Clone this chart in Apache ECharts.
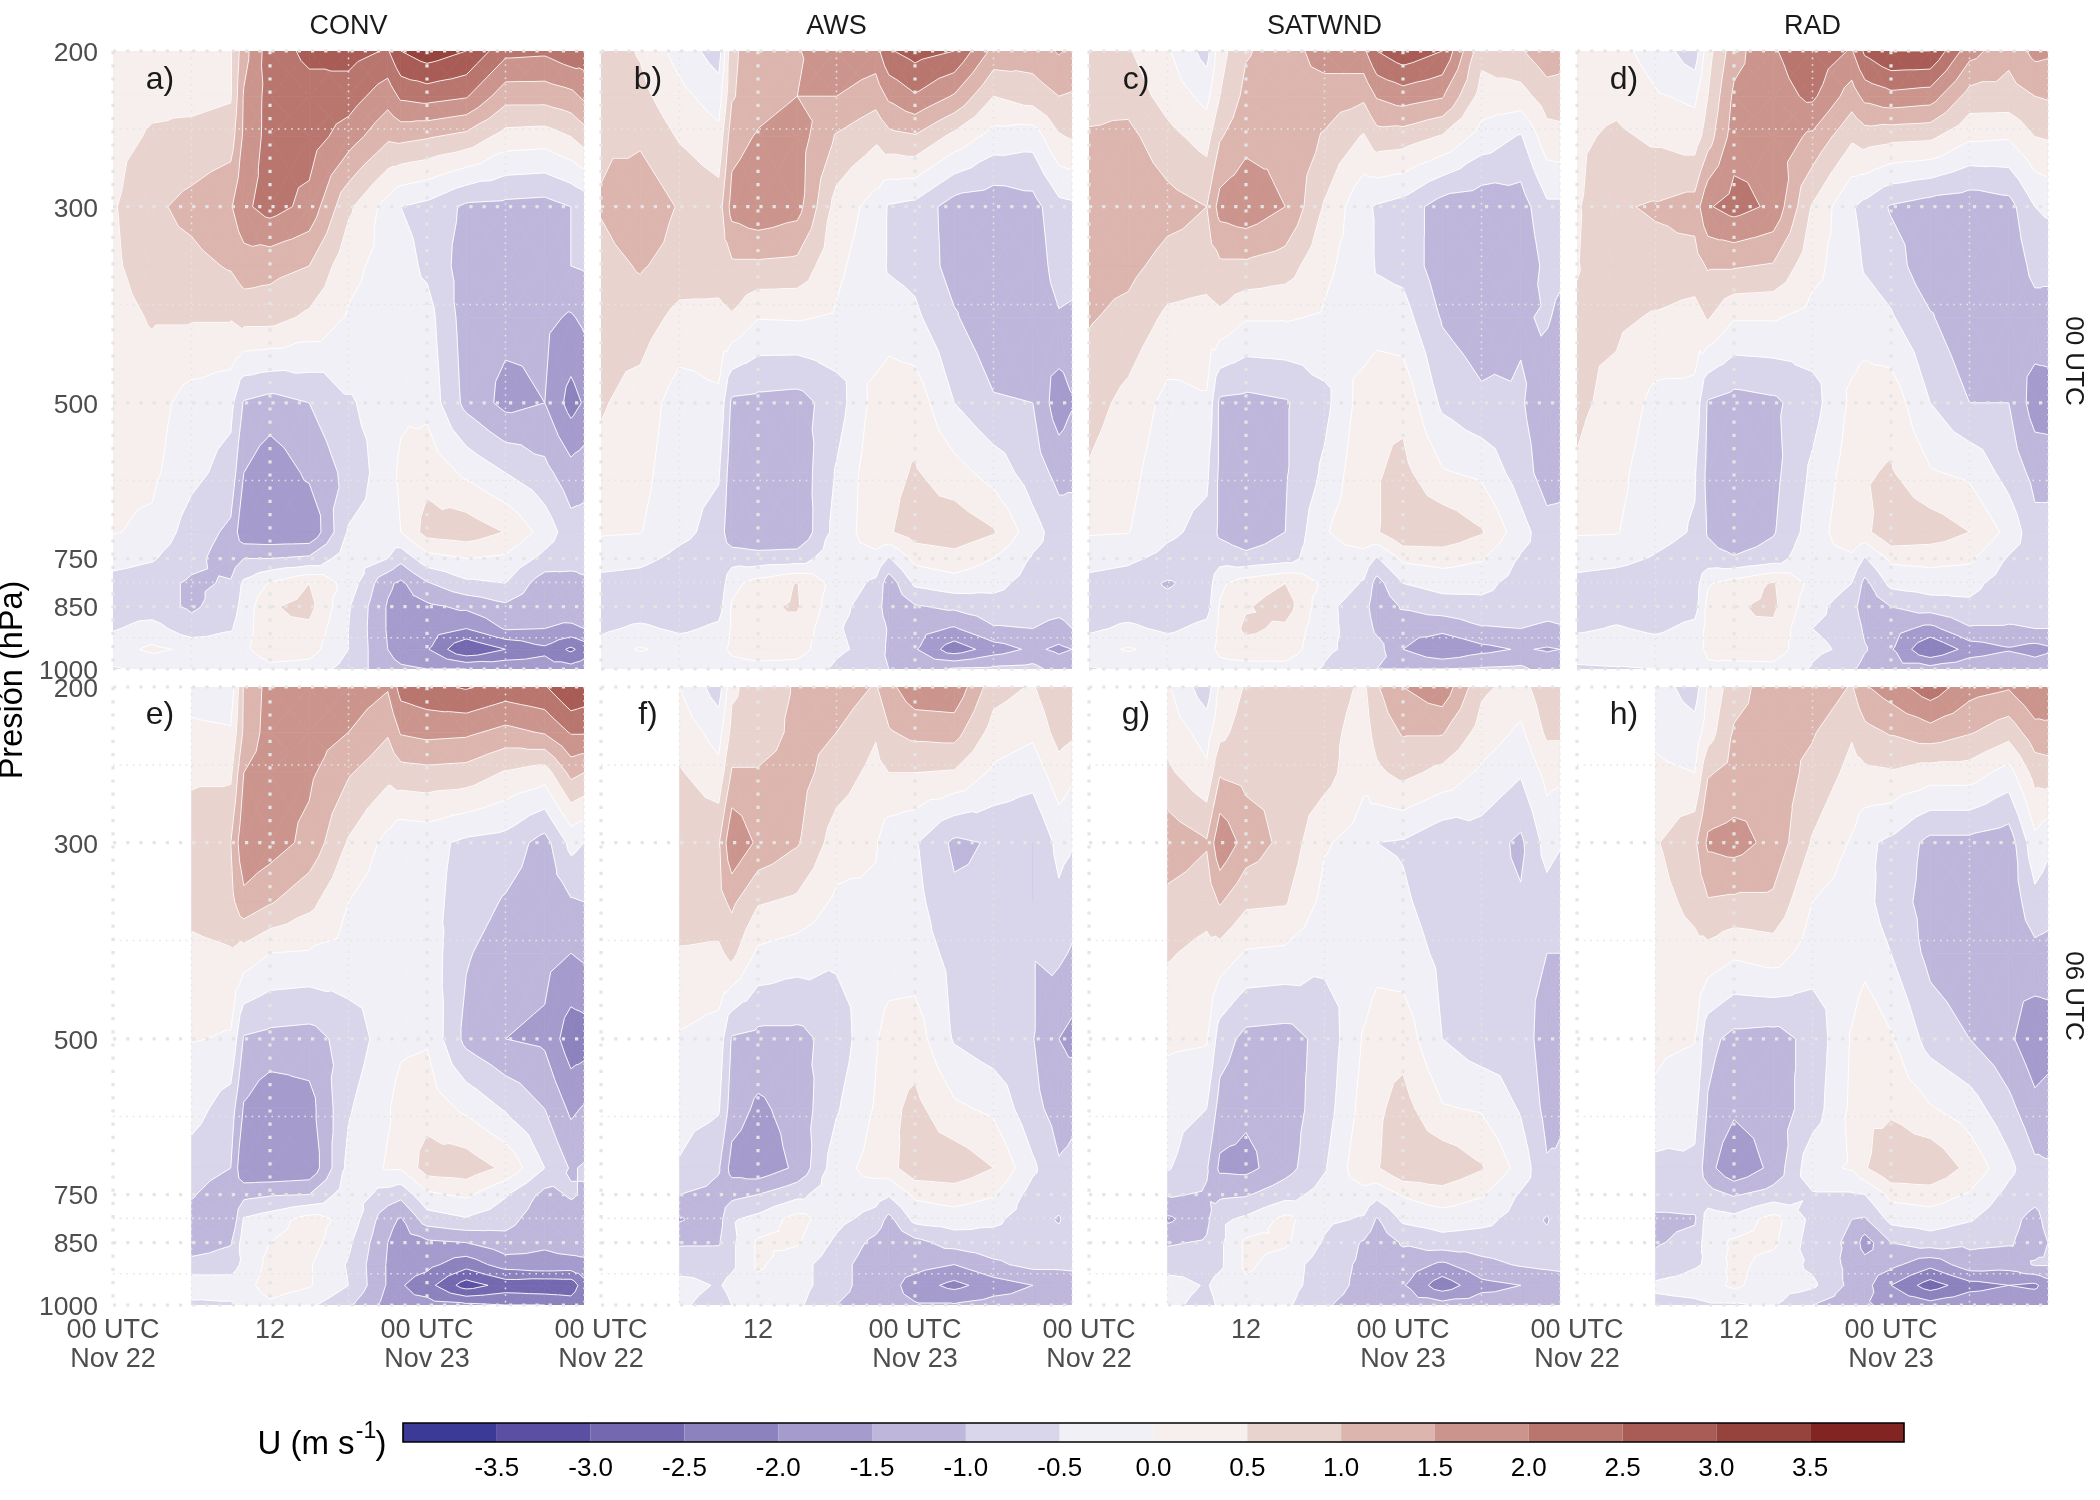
<!DOCTYPE html>
<html>
<head>
<meta charset="utf-8">
<script src="https://cdn.jsdelivr.net/npm/echarts@6/dist/echarts.min.js"></script>
<style>
    html, body { margin: 0; background: #fff; }
    #chart { width: 2100px; height: 1500px; }
</style>
</head>
<body>
<div id="chart"></div>
<script>
const pressure = [200, 225, 250, 300, 350, 400, 500, 600, 700, 750, 800, 850, 900, 950, 1000]
const timesTop = [0, 3, 6, 9, 10, 12, 15, 18, 21, 22, 24, 27, 30, 33, 35, 36]
const timesBottom = [6, 9, 10, 12, 15, 18, 21, 22, 24, 27, 30, 33, 35, 36]

const levels = [-4, -3.5, -3, -2.5, -2, -1.5, -1, -0.5, 0, 0.5, 1, 1.5, 2, 2.5, 3, 3.5, 4]
const bandColors = ['#3b3a96', '#5a4fa3', '#7468b0', '#8c82bd', '#a59bcd', '#bfb7db', '#d9d5ea', '#f1f0f6',
    '#f6efed', '#e9d3ce', '#dcb5ae', '#cb958d', '#b9766f', '#a85c55', '#95433c', '#822522']

const majorP = [200, 300, 500, 750, 850, 1000]
const minorP = [245, 387, 612, 798, 922]
const majorT = [0, 12, 24]
const minorT = [6, 18, 30, 36]
const xTickValues = [0, 12, 24]
const xTickLabels = ['00 UTC\nNov 22', '12', '00 UTC\nNov 23']
const colNames = ['CONV', 'AWS', 'SATWND', 'RAD']
const panelLetters = ['a)', 'b)', 'c)', 'd)', 'e)', 'f)', 'g)', 'h)']
const rowNames = ['00 UTC', '06 UTC']

// one list per time step, top (200 hPa) to bottom (1000 hPa)
const panelA = [
    [.25,.3,.35,.45,.4,.3,.2,.1,.03,-.3,-.7,-.7,-.55,-.2,-.55],
    [.3,.4,.55,.9,.8,.55,.2,.1,-.1,-.45,-.8,-.8,-.3,.1,-.4],
    [.3,.35,.65,1.15,.85,.55,-.2,-.35,-.75,-.85,-1.08,-1.08,-.8,-.1,-.4],
    [.45,.45,.75,1.45,1.05,.55,-.35,-.7,-1.1,-1.25,-.95,-.75,-.55,-.2,-.4],
    [1.3,1.55,1.6,1.9,1.25,.7,-1.05,-1.5,-1.9,-1,-.4,-.3,-.25,-.1,-.4],
    [2.3,2.2,2.2,2.2,1.17,.7,-1.2,-1.85,-1.95,-1,.05,.45,.45,.3,-.15],
    [2.6,2.35,2.25,1.85,1,.4,-1,-1.4,-1.95,-.9,.5,.65,.4,.2,-.2],
    [2.7,2.25,1.75,.6,.15,-.05,-.55,-.85,-.45,-.2,-.2,-.45,-.5,-.5,-.7],
    [2.45,1.7,1.1,-.2,-.2,-.25,-.3,-.2,-.3,-.5,-1.4,-1.55,-1.55,-1.5,-1.3],
    [3,2.1,1.15,-.5,-.3,-.3,-.1,.1,0,-.85,-1.6,-1.7,-1.65,-1.8,-1.4],
    [3.3,2.2,1.05,-.65,-.6,-.3,-.15,.35,.7,-.2,-1.05,-1.6,-1.75,-1.95,-1.5],
    [3,2.05,.85,-1.1,-1.25,-1.25,-1.15,-.1,.8,0,-.6,-1.4,-2,-3,-1.5],
    [2.15,1.2,.3,-1.15,-1.3,-1.35,-1.65,-.5,.48,-.1,-.5,-1.1,-1.45,-2.5,-1.6],
    [2.1,1.2,.25,-1.2,-1.3,-1.4,-1.5,-.85,-.2,-.65,-1.3,-1.35,-1.5,-2.1,-1.8],
    [2.35,1.35,.5,-1,-1,-1.55,-2.2,-1.3,-.8,-.85,-1.15,-1.2,-1.6,-2.6,-1.8],
    [2.3,1.6,.75,-.85,-.95,-1.4,-1.95,-1.2,-.8,-.9,-1.05,-1.15,-1.5,-2.3,-1.7]
]
const panelB = [
    [.8,.85,.9,1.05,.8,.7,.55,.35,.05,-.25,-.7,-.8,-.6,-.3,-.5],
    [.45,.65,.9,1.4,1.05,.75,.3,.15,.02,-.35,-.75,-.8,-.4,.05,-.4],
    [-.2,.15,.45,.95,.8,.35,-.25,-.3,-.35,-.65,-1,-.85,-.6,-.2,-.4],
    [-.75,-.25,.15,.75,.75,.35,-.1,-.45,-.7,-.8,-.85,-.7,-.4,-.15,-.4],
    [.9,.95,1.3,1.7,.9,.45,-1.1,-1.3,-1.4,-.7,-.15,.05,.05,.1,-.2],
    [1.3,1.3,1.55,1.9,.9,.03,-1.15,-1.35,-1.45,-.8,.2,.42,.48,.3,-.2],
    [1.45,1.5,1.75,1.7,.85,.05,-1.2,-1.35,-1.45,-.75,.52,.55,.35,.2,-.2],
    [1.95,1.5,.95,.3,.1,-.05,-.75,-.45,-.3,-.15,-.2,-.35,-.45,-.4,-.6],
    [1.8,1.2,.6,-.2,-.3,-.4,.2,.35,.3,-.15,-.6,-.75,-.75,-.7,-.95],
    [2.45,1.6,.85,-.55,-.55,-.25,.3,.35,.45,-.55,-1.3,-1.3,-1.05,-1.1,-1],
    [2.7,1.95,.95,-.65,-.65,-.4,.3,.55,.75,.15,-.4,-1.05,-1.3,-1.45,-1.3],
    [2.5,1.45,.35,-1.25,-1.2,-.95,-.5,.2,.85,.3,-.2,-.9,-1.55,-2.3,-.95],
    [1.35,.5,-.2,-1.35,-1.35,-1.35,-.95,-.2,.55,0,-.35,-.7,-1.05,-1.75,-.9],
    [1.25,.75,-.3,-1.2,-1.35,-1.4,-1,-.75,-.3,-.55,-.7,-.75,-1,-1.4,-.85],
    [1.55,1,.45,-.65,-.75,-1.05,-1.8,-1.15,-.75,-.65,-.7,-.8,-1.2,-1.6,-1.2],
    [1.4,.95,.55,-.6,-.8,-1.1,-1.55,-1.1,-.8,-.65,-.7,-.75,-1,-1.5,-1.1]
]
const panelC = [
    [.75,.85,1.05,1.35,1.2,1.05,.7,.45,.05,-.3,-.65,-.75,-.6,-.2,-.55],
    [.55,.8,1.15,1.5,1.15,.85,.35,.15,.02,-.4,-.75,-.75,-.4,.05,-.4],
    [.05,.3,.65,1.2,.8,.4,-.15,-.3,-.4,-.65,-1.05,-.85,-.6,-.2,-.45],
    [-.7,-.15,.3,1,.75,.3,-.05,-.4,-.65,-.8,-.8,-.7,-.35,-.15,-.4],
    [.3,.5,.95,1.7,.9,.4,-1.1,-1.1,-1.1,-.7,-.1,.05,.1,.1,-.15],
    [.95,1.15,1.35,1.85,.9,.05,-1.15,-1.2,-1.35,-.85,.25,.45,.6,.3,-.2],
    [1.25,1.3,1.35,1.5,.75,.05,-1.05,-1.05,-1,-.7,.5,.75,.4,.3,-.2],
    [1.75,1.25,.95,.45,.1,-.05,-.65,-.4,-.05,-.15,-.1,-.35,-.35,-.4,-.55],
    [1.9,1.1,.45,-.4,-.25,-.35,.25,.4,.35,-.2,-.55,-.8,-.75,-.7,-1],
    [2.5,1.55,.8,-.55,-.55,-.25,.4,.45,.45,-.55,-1.2,-1.3,-1.1,-.8,-1],
    [2.85,1.75,.75,-.7,-.65,-.3,.35,.65,.95,.1,-.5,-.95,-1.3,-1.5,-1],
    [2.5,1.55,.45,-1.25,-1.3,-1.05,-.6,.05,.9,.2,-.3,-.75,-1.35,-2,-1],
    [.65,.3,-.2,-1.35,-1.4,-1.3,-.9,-.1,.55,.05,-.35,-.65,-1.05,-1.65,-.95],
    [.95,.3,-.55,-1.25,-1.4,-1.05,-.95,-.75,-.3,-.55,-.7,-.7,-1,-1.45,-.9],
    [1.35,.75,.3,-.6,-.85,-.95,-1.3,-1.25,-.8,-.65,-.7,-.8,-1.1,-1.55,-1.2],
    [1.25,.75,.35,-.6,-.9,-1.1,-1.35,-1.2,-.8,-.65,-.7,-.8,-1.05,-1.5,-1.1]
]
const panelD = [
    [.2,.3,.4,.45,.48,.55,.6,.45,.05,-.3,-.65,-.8,-.6,-.15,-.6],
    [.15,.35,.6,.95,.75,.6,.35,.15,.03,-.35,-.75,-.75,-.45,-.15,-.55],
    [-.2,.05,.4,1.05,.85,.45,-.15,-.3,-.3,-.55,-.85,-.8,-.6,-.25,-.5],
    [-.8,-.1,.25,1.2,.8,.3,-.15,-.45,-.55,-.75,-.75,-.7,-.35,-.15,-.5],
    [.3,.5,.75,1.95,1.05,.55,-1.05,-1.15,-1.05,-.8,-.05,.15,.15,.1,-.1],
    [1.3,1.6,1.75,2.2,1.05,.05,-1.2,-1.2,-1.4,-.95,.2,.45,.5,.3,-.2],
    [1.95,1.8,1.8,1.9,.95,.05,-1.1,-1.15,-1.05,-.75,.55,.6,.4,.25,-.15],
    [2.35,2.1,1.4,.45,.15,-.15,-.7,-.4,-.25,-.1,-.15,-.35,-.5,-.4,-.55],
    [1.95,1.25,.6,-.45,-.3,-.25,.1,.25,.35,-.1,-.5,-.75,-.65,-.6,-.9],
    [2.6,1.65,.75,-.65,-.55,-.25,.25,.45,.35,-.55,-1.15,-1.35,-1.1,-.95,-1.2],
    [3,1.85,.65,-1.05,-.75,-.45,.3,.55,.95,.1,-.35,-1,-1.3,-1.45,-1.3],
    [3,1.75,.6,-1.25,-1.35,-.95,-.5,.05,.8,.15,-.25,-.75,-1.65,-2.5,-1.3],
    [1.7,.8,.1,-1.35,-1.35,-1.4,-1,-.1,.5,.1,-.35,-.6,-1.05,-1.8,-1.1],
    [1.15,.8,.05,-1.2,-1.35,-1.4,-1,-.7,-.15,-.55,-.75,-.8,-1.05,-1.55,-1],
    [1.65,1,.5,-.5,-.85,-1.2,-1.75,-1.15,-.85,-.65,-.7,-.8,-1,-1.7,-1.2],
    [1.6,1.05,.55,-.4,-.9,-1.15,-1.75,-1.2,-.8,-.65,-.7,-.8,-1,-1.6,-1.1]
]
const panelE = [
    [-.2,.1,.4,.8,.7,.35,.03,-.3,-.75,-.95,-1.2,-1.35,-.8,-.2,-.6],
    [-.3,.05,.4,1,.85,.45,-.05,-.75,-1,-1.35,-1.45,-1.05,-.7,-.3,-.55],
    [1.05,1.1,1.5,1.9,1.35,.3,-1.05,-1.55,-1.95,-1.15,-.45,-.25,-.4,-.2,-.35],
    [1.7,1.75,1.75,1.75,1.05,0,-1.15,-1.9,-2,-1.05,-.25,0,.15,.25,-.1],
    [1.8,1.75,1.6,1.35,.65,-.05,-1.2,-1.7,-1.9,-1,.2,.2,.05,.05,-.4],
    [1.85,1.5,1.05,.45,0,-.15,-.8,-.55,-.35,-.2,-.15,-.4,-.55,-.5,-.9],
    [1.55,1.05,.65,-.15,-.3,-.3,-.25,-.05,.05,-.7,-1.35,-1.5,-1.55,-1.55,-1.7],
    [2.2,1.55,.8,-.4,-.3,-.25,-.1,.2,.05,-.85,-1.55,-1.75,-1.75,-1.95,-1.9],
    [2.35,1.65,.85,-.35,-.3,-.2,-.05,.3,.75,-.1,-.75,-1.6,-1.85,-2.3,-1.8],
    [2.55,1.6,.8,-.6,-.75,-.95,-1.15,-.1,.8,.1,-.55,-1.5,-2.3,-3.25,-1.9],
    [2.3,1.35,.45,-.7,-1.05,-1.25,-1.5,-.55,.4,-.45,-.8,-1.2,-1.75,-2.8,-2],
    [2.45,1.55,.25,-1.2,-1.3,-1.35,-1.6,-1,-.5,-1.15,-1.35,-1.45,-1.6,-2.9,-2],
    [3,2.05,1.15,-.35,-1.05,-1.5,-2.3,-1.6,-1.05,-.95,-1.2,-1.3,-1.65,-2.85,-2.2],
    [2.85,2.05,1,-.5,-1,-1.4,-2.25,-1.45,-.95,-1.05,-1.2,-1.3,-1.6,-2.2,-2]
]
const panelF = [
    [0,.3,.55,.95,.8,.45,-.05,-.3,-.55,-1,-1.55,-1.05,-.75,-.3,-.4],
    [-.75,-.2,.15,.95,.85,.4,-.2,-.45,-.95,-1.15,-1.2,-1.05,-.7,-.55,-.75],
    [.4,.65,1.05,1.95,1.1,.65,-1.05,-1.25,-1.7,-1.15,-.55,-.6,-.6,-.35,-.5],
    [.75,.7,1.05,1.4,.55,-.1,-1.15,-1.6,-1.85,-1,-.35,.08,.08,-.15,-.4],
    [1.05,1.15,1.2,1.05,.4,-.25,-1.15,-1.3,-1.4,-.65,.2,.05,-.3,-.3,-.4],
    [1.35,1,.75,.25,-.1,-.4,-.8,-.55,-.2,-.15,-.35,-.6,-.8,-.8,-1],
    [.95,.55,.35,.05,-.1,-.3,-.05,.05,.2,-.3,-.7,-1.15,-1.3,-1.3,-1.3],
    [1.35,.95,.5,-.3,-.3,-.25,.2,.35,.3,-.45,-1.15,-1.35,-1.3,-1.3,-1.35],
    [1.85,1.15,.5,-.45,-.35,-.25,.25,.65,.85,.1,-.35,-1.15,-1.3,-1.75,-1.45],
    [1.9,1.2,.45,-1.1,-.9,-.65,-.55,.1,.85,.25,-.25,-.8,-1.5,-2.15,-1.45],
    [.7,.3,-.1,-.95,-.9,-.85,-.8,-.1,.5,.05,-.4,-.7,-1.1,-1.75,-1.3],
    [.45,.1,-.3,-1,-1,-.98,-.98,-.85,-.4,-.7,-.75,-.7,-.85,-1.5,-1.3],
    [.95,.7,.3,-.35,-.6,-.9,-1.5,-1.2,-.95,-.75,-1.05,-.8,-.85,-1.45,-1.15],
    [.95,.6,.1,-.45,-.8,-1.05,-1.65,-1.1,-.9,-.7,-.7,-.7,-.8,-1.45,-1.05]
]
const panelG = [
    [.05,.3,.6,1.35,.85,.55,.1,-.3,-.45,-.95,-1.6,-1.05,-.75,-.25,-.35],
    [-.8,-.2,.1,1.05,.7,.35,.05,-.5,-.95,-1.05,-1.1,-.95,-.7,-.55,-.7],
    [.1,.35,.95,1.9,1.05,.3,-.75,-1.2,-1.6,-1.1,-.6,-.6,-.6,-.3,-.4],
    [.55,.75,.85,1.3,.6,-.05,-1.15,-1.4,-1.65,-1.05,-.4,.1,.1,-.1,-.4],
    [.85,.85,.9,.85,.55,-.1,-1.2,-1.25,-1.2,-.7,.15,.08,-.25,-.3,-.4],
    [.8,.7,.7,.05,-.15,-.35,-.85,-.75,-.55,-.3,-.4,-.55,-.75,-.75,-.95],
    [.4,.25,.1,-.2,-.3,-.35,.05,.2,.4,-.2,-.55,-1.05,-1.1,-1.15,-1.2],
    [.95,.7,.4,-.5,-.3,-.2,.3,.4,.45,-.35,-1.05,-1.3,-1.25,-1.3,-1.3],
    [1.5,1.05,.65,-.55,-.42,-.25,.3,.7,.95,.05,-.4,-.95,-1.2,-1.45,-1.25],
    [1.85,1.05,.35,-.9,-.75,-.62,-.5,.05,.9,.3,-.25,-.7,-1.6,-2.3,-1.3],
    [.6,.3,-.1,-.75,-.8,-.85,-.8,-.05,.55,.05,-.35,-.75,-1.15,-1.65,-1.25],
    [.3,-.1,-.45,-1.1,-.95,-.85,-.7,-.55,-.2,-.55,-.7,-.7,-.95,-1.5,-1.3],
    [.85,.6,.15,-.3,-.7,-1,-1.3,-1.15,-.95,-.7,-1.05,-.85,-.85,-1.45,-1.1],
    [.85,.6,.1,-.45,-.85,-1,-1.4,-1.05,-.95,-.75,-.75,-.75,-.8,-1.4,-1.15]
]
const panelH = [
    [-.25,-.1,.1,.45,.3,.2,.1,-.1,-.65,-.75,-1.1,-1.05,-.85,-.4,-.65],
    [-.75,-.3,0,.9,.65,.35,.02,-.35,-.6,-.8,-1.05,-.85,-.55,-.3,-.6],
    [.05,.25,.95,1.6,.95,.35,-.85,-1.05,-1.3,-.8,-.25,-.2,-.45,-.2,-.55],
    [.8,1.05,1.15,1.7,.9,.1,-1.15,-1.4,-1.95,-1.05,-.35,.08,.15,.1,-.55],
    [1.25,1.2,1.3,1.35,.9,.25,-1.2,-1.3,-1.35,-.8,.2,.1,-.2,-.3,-.45],
    [1.45,1.05,.85,.45,0,-.25,-.85,-.75,-.15,-.55,-.65,-.75,-.6,-.4,-1],
    [.95,.55,.35,-.05,-.25,-.3,.05,.1,.05,-.55,-1,-1.1,-1.15,-1.15,-1.3],
    [1.45,.85,.4,-.4,-.35,-.2,.4,.4,.45,-.5,-1.05,-1.75,-1.3,-1.3,-1.45],
    [1.75,1.05,.45,-.6,-.75,-.5,.05,.4,.95,.15,-.35,-1,-1.35,-2,-1.6],
    [2.3,1.3,.25,-1.15,-1.2,-1.15,-.7,.05,.95,.25,-.25,-.75,-1.85,-2.75,-1.8],
    [1.7,1.05,.25,-1.15,-1.35,-1.35,-1,-.25,.35,-.05,-.45,-.9,-1.2,-2.2,-1.6],
    [1.55,.7,-.2,-1.3,-1.35,-1.4,-1.4,-.85,-.35,-.65,-.85,-.95,-1.3,-2,-1.6],
    [2,1.3,.7,-.15,-.65,-1.15,-1.85,-1.35,-.9,-.85,-1.15,-1.2,-.95,-2.1,-1.6],
    [1.9,1.35,.75,-.4,-.75,-1.2,-1.75,-1.25,-.95,-.8,-.85,-1,-.95,-1.75,-1.65]
]

const panels = [panelA, panelB, panelC, panelD, panelE, panelF, panelG, panelH]

const panelLeft = [113, 601, 1089, 1577]
const panelTop = [51, 687]
const panelW = 471
const panelH_px = 618
const font = 'Liberation Sans'

function buildCells(cols, times) {
    const cells = []
    for (let i = 0; i < times.length - 1; i++) {
        for (let j = 0; j < pressure.length - 1; j++) {
            cells.push([times[i], pressure[j], times[i + 1], pressure[j + 1],
                cols[i][j], cols[i][j + 1], cols[i + 1][j + 1], cols[i + 1][j]])
        }
    }
    return cells
}

// split a cell around its centre, corners as [x, y, value]
function cellTriangles(api) {
    const t0 = api.value(0), p0 = api.value(1), t1 = api.value(2), p1 = api.value(3)
    const vals = [api.value(4), api.value(5), api.value(6), api.value(7)]
    const pos = [api.coord([t0, p0]), api.coord([t0, p1]), api.coord([t1, p1]), api.coord([t1, p0])]
    const c = [0, 0, 0]
    const corners = pos.map((p, k) => {
        c[0] += p[0] / 4
        c[1] += p[1] / 4
        c[2] += vals[k] / 4
        return [p[0], p[1], vals[k]]
    })
    return corners.map((p, k) => [p, corners[(k + 1) % 4], c])
}

function clipPoly(poly, level, above) {
    const out = []
    for (let i = 0; i < poly.length; i++) {
        const a = poly[i], b = poly[(i + 1) % poly.length]
        const ina = above ? a[2] >= level : a[2] <= level
        const inb = above ? b[2] >= level : b[2] <= level
        if (ina) out.push(a)
        if (ina !== inb) {
            const f = (level - a[2]) / (b[2] - a[2])
            out.push([a[0] + (b[0] - a[0]) * f, a[1] + (b[1] - a[1]) * f, level])
        }
    }
    return out
}

function renderFill(params, api) {
    const children = []
    cellTriangles(api).forEach(tri => {
        for (let b = 0; b < bandColors.length; b++) {
            let poly = clipPoly(tri, levels[b], true)
            if (poly.length > 2) poly = clipPoly(poly, levels[b + 1], false)
            if (poly.length > 2) {
                children.push({
                    type: 'polygon',
                    shape: { points: poly.map(p => [p[0], p[1]]) },
                    style: { fill: bandColors[b], stroke: bandColors[b], lineWidth: 0.7 },
                    silent: true
                })
            }
        }
    })
    return { type: 'group', children }
}

function renderContour(params, api) {
    const children = []
    cellTriangles(api).forEach(tri => {
        for (let l = 1; l < levels.length - 1; l++) {
            const pts = []
            for (let k = 0; k < 3; k++) {
                const a = tri[k], b = tri[(k + 1) % 3]
                if ((a[2] < levels[l]) !== (b[2] < levels[l])) {
                    const f = (levels[l] - a[2]) / (b[2] - a[2])
                    pts.push([a[0] + (b[0] - a[0]) * f, a[1] + (b[1] - a[1]) * f])
                }
            }
            if (pts.length === 2) {
                children.push({
                    type: 'line',
                    shape: { x1: pts[0][0], y1: pts[0][1], x2: pts[1][0], y2: pts[1][1] },
                    style: { stroke: '#fff', lineWidth: 0.9 },
                    silent: true
                })
            }
        }
    })
    return { type: 'group', children }
}

// dotted grid sits on top of the contours
function renderGrid(params, api) {
    const vertical = api.value(0) === 1
    const val = api.value(1)
    const major = api.value(2) === 1
    const a = vertical ? api.coord([val, 200]) : api.coord([0, val])
    const b = vertical ? api.coord([val, 1000]) : api.coord([36, val])
    const w = major ? 3.2 : 1.6
    return {
        type: 'line',
        shape: { x1: a[0], y1: a[1], x2: b[0], y2: b[1] },
        style: { stroke: '#e5e5e5', lineWidth: w, lineDash: major ? [3.2, 10] : [1.6, 5] },
        silent: true
    }
}

const gridLines = []
majorP.forEach(p => gridLines.push([0, p, 1]))
minorP.forEach(p => gridLines.push([0, p, 0]))
majorT.forEach(t => gridLines.push([1, t, 1]))
minorT.forEach(t => gridLines.push([1, t, 0]))

const grids = [], xAxes = [], yAxes = [], series = []
panels.forEach((cols, n) => {
    const col = n % 4, row = n < 4 ? 0 : 1
    grids.push({ left: panelLeft[col], top: panelTop[row], width: panelW, height: panelH_px })
    xAxes.push({
        type: 'value', gridIndex: n, min: 0, max: 36, interval: 12,
        axisLine: { show: false }, axisTick: { show: false }, splitLine: { show: false },
        axisLabel: {
            show: row === 1, customValues: xTickValues, margin: 11,
            color: '#4d4d4d', fontSize: 27, fontFamily: font, lineHeight: 29,
            formatter: v => xTickLabels[xTickValues.indexOf(v)]
        }
    })
    yAxes.push({
        type: 'log', gridIndex: n, min: 200, max: 1000, inverse: true, logBase: 10,
        axisLine: { show: false }, axisTick: { show: false }, splitLine: { show: false },
        axisLabel: {
            show: col === 0, customValues: majorP, margin: 15,
            formatter: v => '{v|' + Math.round(v) + '}',
            rich: { v: { color: '#4d4d4d', fontSize: 26.5, fontFamily: font, padding: [5, 0, 0, 0] } }
        }
    })
    const data = buildCells(cols, row === 0 ? timesTop : timesBottom)
    const base = { type: 'custom', xAxisIndex: n, yAxisIndex: n, clip: true, silent: true, animation: false }
    series.push({ ...base, z: 2, data, encode: { x: [0, 2], y: [1, 3] }, renderItem: renderFill })
    series.push({ ...base, z: 3, data, encode: { x: [0, 2], y: [1, 3] }, renderItem: renderContour })
    series.push({ ...base, z: 4, data: gridLines, encode: { x: 1 }, clip: false, renderItem: renderGrid })
})

// colour bar
grids.push({ left: 403, top: 1423, width: 1501, height: 19 })
xAxes.push({
    type: 'value', gridIndex: 8, min: -4, max: 4, interval: 0.5,
    axisLine: { show: false }, axisTick: { show: false }, splitLine: { show: false },
    axisLabel: {
        margin: 14, color: '#000', fontSize: 26, fontFamily: font,
        formatter: v => (Math.abs(v) === 4 ? '' : v.toFixed(1))
    }
})
yAxes.push({ type: 'value', gridIndex: 8, min: 0, max: 1, show: false })
series.push({
    type: 'custom', xAxisIndex: 8, yAxisIndex: 8, silent: true, animation: false, z: 2,
    data: bandColors.map((c, i) => [levels[i], levels[i + 1]]),
    encode: { x: [0, 1] },
    renderItem: (params, api) => {
        const a = api.coord([api.value(0), 1]), b = api.coord([api.value(1), 0])
        return {
            type: 'rect',
            shape: { x: a[0], y: a[1], width: b[0] - a[0], height: b[1] - a[1] },
            style: { fill: bandColors[params.dataIndex] }
        }
    }
})
series.push({
    type: 'custom', xAxisIndex: 8, yAxisIndex: 8, silent: true, animation: false, z: 3,
    data: [[levels[0], levels[levels.length - 1]]],
    encode: { x: [0, 1] },
    renderItem: (params, api) => {
        const a = api.coord([api.value(0), 1]), b = api.coord([api.value(1), 0])
        return {
            type: 'rect',
            shape: { x: a[0], y: a[1], width: b[0] - a[0], height: b[1] - a[1] },
            style: { fill: 'none', stroke: '#000', lineWidth: 1.6 }
        }
    }
})

function label(text, x, y, size, color, extra) {
    return Object.assign({
        type: 'text', x, y, silent: true, z: 20,
        style: { text, fontSize: size, fontFamily: font, fill: color, textAlign: 'center', textVerticalAlign: 'middle' }
    }, extra || {})
}

const texts = []
colNames.forEach((name, i) => texts.push(label(name, panelLeft[i] + panelW / 2, 27, 27, '#1a1a1a')))
panelLetters.forEach((name, n) => {
    texts.push(label(name, panelLeft[n % 4] + 47, n < 4 ? 80 : 715, 32, '#1a1a1a'))
})
rowNames.forEach((name, i) => {
    texts.push(label(name, 2073, i === 0 ? 361 : 996, 26, '#1a1a1a', { rotation: -Math.PI / 2 }))
})
texts.push(label('Presión (hPa)', 13, 680, 32.5, '#000', { rotation: Math.PI / 2 }))
texts.push(label('U (m s', 306, 1445, 33, '#000'))
texts.push(label('-1', 366, 1432, 23, '#000'))
texts.push(label(')', 381, 1445, 33, '#000'))

const chart = echarts.init(document.getElementById('chart'), null, { renderer: 'canvas' })
chart.setOption({
    animation: false,
    backgroundColor: '#fff',
    textStyle: { fontFamily: font },
    grid: grids,
    xAxis: xAxes,
    yAxis: yAxes,
    series,
    graphic: { elements: texts }
})
</script>
</body>
</html>
